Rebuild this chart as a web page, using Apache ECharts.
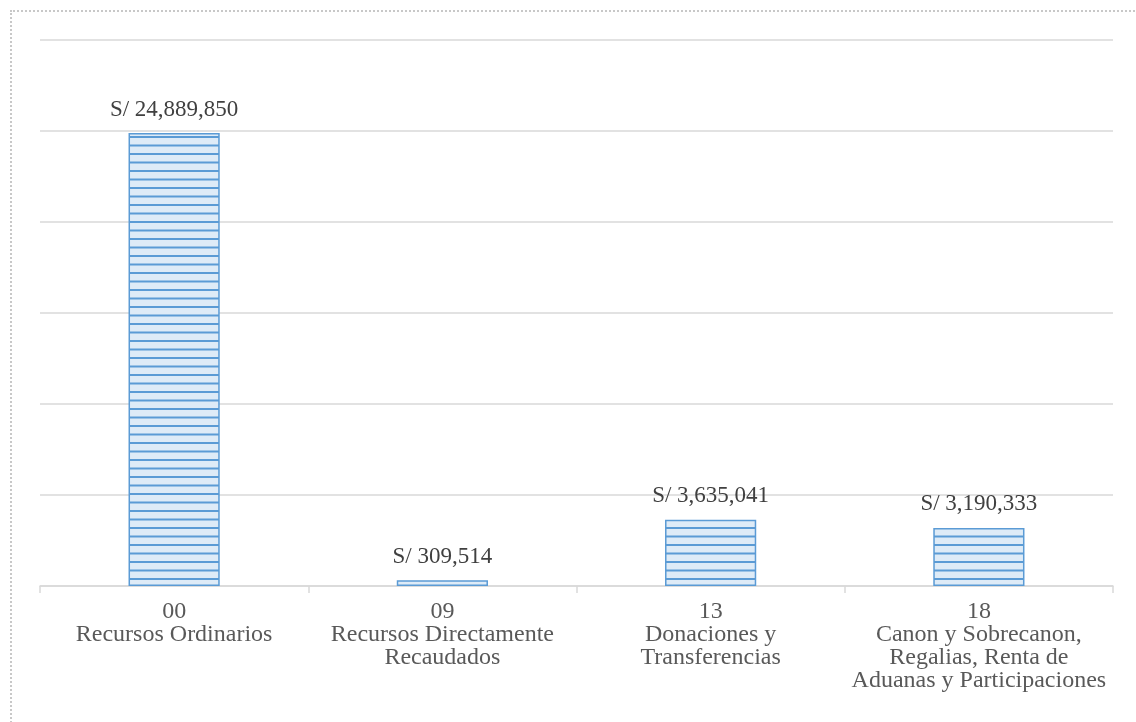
<!DOCTYPE html>
<html>
<head>
<meta charset="utf-8">
<script src="https://cdn.jsdelivr.net/npm/echarts@6/dist/echarts.min.js"></script>
<style>
html,body{margin:0;padding:0;background:#fff;}
#frame{position:absolute;left:10px;top:10px;width:1140px;height:740px;border:2px dotted #c8c8c8;box-sizing:border-box;}
#chart{position:absolute;left:0;top:0;width:1136px;height:722px;}
</style>
</head>
<body>
<div id="frame"></div>
<div id="chart"></div>
<script>
const categories = [
  "00\nRecursos Ordinarios",
  "09\nRecursos Directamente\nRecaudados",
  "13\nDonaciones y\nTransferencias",
  "18\nCanon y Sobrecanon,\nRegalias, Renta de\nAduanas y Participaciones"
];
const values = [24889850, 309514, 3635041, 3190333];
const yTicks = [0, 5000000, 10000000, 15000000, 20000000, 25000000, 30000000];

const FONT = '"Liberation Serif", "Times New Roman", "DejaVu Serif", serif';

// striped fill pattern
const pc = document.createElement('canvas');
pc.width = 4; pc.height = 17;
const ctx = pc.getContext('2d');
ctx.fillStyle = '#deebf7';
ctx.fillRect(0, 0, 4, 17);
ctx.fillStyle = '#5b9bd5';
ctx.fillRect(0, 0, 4, 2);
ctx.fillRect(0, 8.5, 4, 2);

const chart = echarts.init(document.getElementById('chart'), null, {renderer: 'canvas'});
chart.setOption({
  backgroundColor: 'transparent',
  animation: false,
  grid: {left: 40, right: 23, top: 40, bottom: 136, containLabel: false},
  xAxis: {
    type: 'category',
    data: categories,
    axisLine: {lineStyle: {color: '#d9d9d9', width: 1.5}},
    axisTick: {show: true, length: 7, lineStyle: {color: '#d9d9d9', width: 1.5}},
    axisLabel: {
      interval: 0, margin: 14,
      color: '#595959', fontFamily: FONT, fontSize: 24, lineHeight: 23
    }
  },
  yAxis: {
    type: 'value',
    min: yTicks[0], max: yTicks[yTicks.length - 1], interval: yTicks[1] - yTicks[0],
    axisLabel: {show: false},
    axisLine: {show: false},
    axisTick: {show: false},
    splitLine: {lineStyle: {color: '#d9d9d9', width: 1.5}}
  },
  series: [{
    type: 'bar',
    data: values,
    barWidth: '34%',
    itemStyle: {
      color: {image: pc, repeat: 'repeat'},
      borderColor: '#5b9bd5',
      borderWidth: 1.5
    },
    label: {
      show: true, position: 'top', distance: 12,
      color: '#404040', fontFamily: FONT, fontSize: 23,
      formatter: p => 'S/ ' + p.value.toLocaleString('en-US')
    }
  }]
});
</script>
</body>
</html>
